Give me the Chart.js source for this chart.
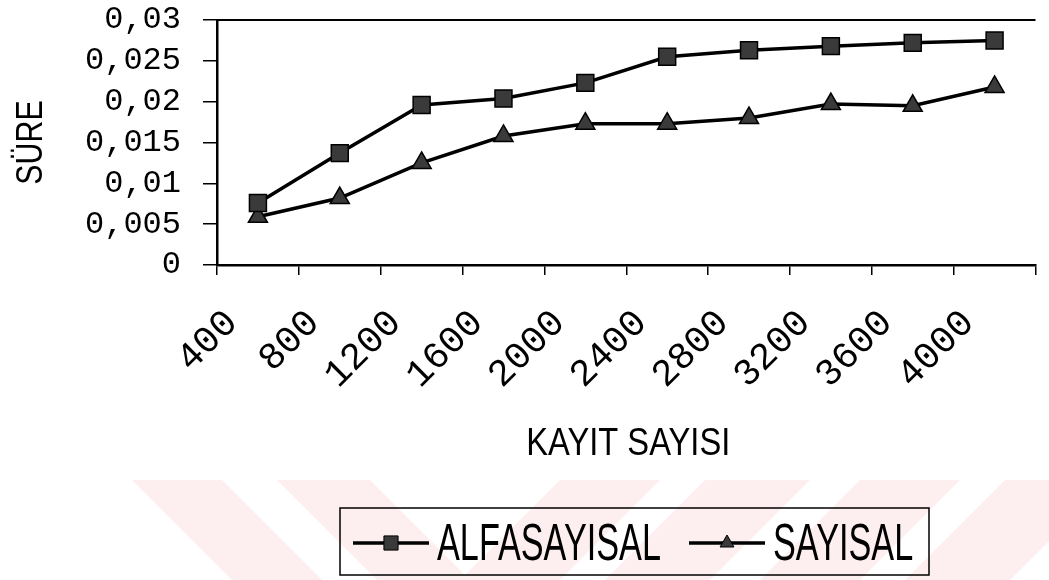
<!DOCTYPE html>
<html>
<head>
<meta charset="utf-8">
<script src="https://cdn.jsdelivr.net/npm/chart.js@4.4.1/dist/chart.umd.min.js"></script>
<style>
  html, body { margin: 0; padding: 0; background: #fff; }
  canvas { display: block; }
</style>
</head>
<body>
<canvas id="chart" width="1049" height="580"></canvas>
<script>
// Record counts on the x axis, measured times on the y axis
const categories = ['400', '800', '1200', '1600', '2000', '2400', '2800', '3200', '3600', '4000'];
const alfasayisal = [0.0076, 0.0137, 0.0196, 0.0204, 0.0223, 0.0255, 0.0263, 0.0268, 0.0272, 0.0275];
const sayisal = [0.0059, 0.0082, 0.0125, 0.0158, 0.0173, 0.0173, 0.0180, 0.0197, 0.0195, 0.0218];
const seriesNames = ['ALFASAYISAL', 'SAYISAL'];
const yTicks = [0, 0.005, 0.01, 0.015, 0.02, 0.025, 0.03];
const yTickLabels = ['0', '0,005', '0,01', '0,015', '0,02', '0,025', '0,03'];
const xTitle = 'KAYIT SAYISI';
const yTitle = 'SÜRE';

const sansFont = "'Liberation Sans', Arial, sans-serif";
const monoFont = "'Liberation Mono', 'Courier New', monospace";

// Faint pink diagonal bands behind the lower part of the page
const watermark = {
  id: 'watermark',
  beforeDraw(chart) {
    const { ctx, width, height } = chart;
    const top = 480;
    const h = height - top;
    ctx.save();
    ctx.fillStyle = '#ffffff';
    ctx.fillRect(0, 0, width, height);
    ctx.beginPath();
    ctx.rect(0, top, width, h);
    ctx.clip();
    ctx.fillStyle = '#fdeef0';
    const down = [[132, 222], [277, 370]];
    down.forEach(([a, b]) => {
      ctx.beginPath();
      ctx.moveTo(a, top); ctx.lineTo(b, top);
      ctx.lineTo(b + h, height); ctx.lineTo(a + h, height);
      ctx.closePath(); ctx.fill();
    });
    const up = [[560, 660], [705, 810], [860, 960], [1005, 1110]];
    up.forEach(([a, b]) => {
      ctx.beginPath();
      ctx.moveTo(a, top); ctx.lineTo(b, top);
      ctx.lineTo(b - h, height); ctx.lineTo(a - h, height);
      ctx.closePath(); ctx.fill();
    });
    ctx.restore();
  }
};

// Upper frame line of the plot area and the condensed axis titles
const frameAndTitles = {
  id: 'frameAndTitles',
  afterDraw(chart) {
    const { ctx, chartArea } = chart;
    ctx.save();
    ctx.strokeStyle = '#000';
    ctx.lineWidth = 2;
    ctx.beginPath();
    ctx.moveTo(chartArea.left, chartArea.top);
    ctx.lineTo(chartArea.right, chartArea.top);
    ctx.stroke();

    ctx.fillStyle = '#000';
    ctx.textAlign = 'center';
    ctx.textBaseline = 'alphabetic';
    ctx.font = '38px ' + sansFont;
    ctx.save();
    ctx.translate((chartArea.left + chartArea.right) / 2 + 2, 455);
    ctx.scale(0.86, 1);
    ctx.fillText(xTitle, 0, 0);
    ctx.restore();

    ctx.font = '37px ' + sansFont;
    ctx.save();
    ctx.translate(42, (chartArea.top + chartArea.bottom) / 2);
    ctx.rotate(-Math.PI / 2);
    ctx.scale(0.82, 1);
    ctx.fillText(yTitle, 0, 0);
    ctx.restore();
    ctx.restore();
  }
};

// Boxed legend under the axis title, with condensed lettering
const boxLegend = {
  id: 'boxLegend',
  afterDraw(chart) {
    const { ctx } = chart;
    const box = { x: 340, y: 508, w: 589, h: 67 };
    const cy = box.y + 35;
    const textBase = box.y + 52;
    ctx.save();
    ctx.strokeStyle = '#000';
    ctx.lineWidth = 1.5;
    ctx.strokeRect(box.x, box.y, box.w, box.h);
    ctx.font = '52px ' + sansFont;
    ctx.textBaseline = 'alphabetic';
    ctx.fillStyle = '#000';
    const sx = 224 / ctx.measureText(chart.data.datasets[0].label).width;
    let x = box.x + 13;
    chart.data.datasets.forEach((ds) => {
      const lineLen = 76;
      ctx.strokeStyle = '#000';
      ctx.lineWidth = 3.5;
      ctx.beginPath();
      ctx.moveTo(x, cy); ctx.lineTo(x + lineLen, cy);
      ctx.stroke();
      ctx.fillStyle = ds.pointBackgroundColor;
      ctx.strokeStyle = '#000';
      ctx.lineWidth = 1;
      Chart.helpers.drawPoint(ctx, { pointStyle: ds.pointStyle, radius: ds.pointStyle === 'rect' ? 10 : 8, borderWidth: 1, rotation: 0 }, x + lineLen / 2, cy);
      ctx.fillStyle = '#000';
      const tx = x + lineLen + 8;
      const tw = ctx.measureText(ds.label).width * sx;
      ctx.save();
      ctx.translate(tx, textBase);
      ctx.scale(sx, 1);
      ctx.fillText(ds.label, 0, 0);
      ctx.restore();
      x = tx + tw + 28;
    });
    ctx.restore();
  }
};

new Chart(document.getElementById('chart'), {
  type: 'line',
  data: {
    labels: categories,
    datasets: [
      {
        label: seriesNames[0],
        data: alfasayisal,
        borderColor: '#000',
        borderWidth: 3.5,
        tension: 0,
        fill: false,
        pointStyle: 'rect',
        pointRadius: 12,
        pointBackgroundColor: '#3a3a3a',
        pointBorderColor: '#000',
        pointBorderWidth: 1.5
      },
      {
        label: seriesNames[1],
        data: sayisal,
        borderColor: '#000',
        borderWidth: 3.5,
        tension: 0,
        fill: false,
        pointStyle: 'triangle',
        pointRadius: 11,
        pointBackgroundColor: '#3a3a3a',
        pointBorderColor: '#000',
        pointBorderWidth: 1.5
      }
    ]
  },
  options: {
    responsive: false,
    animation: false,
    events: [],
    layout: { padding: { top: 20, right: 0, bottom: 120, left: 0 } },
    plugins: {
      legend: { display: false },
      tooltip: { enabled: false }
    },
    scales: {
      x: {
        type: 'category',
        offset: true,
        grid: { offset: true, drawOnChartArea: false, drawTicks: true, tickLength: 10, color: '#000', lineWidth: 1.5 },
        border: { display: true, color: '#000', width: 2.5 },
        ticks: {
          color: '#000',
          font: { family: monoFont, size: 38 },
          minRotation: 45,
          maxRotation: 45,
          autoSkip: false,
          padding: 26,
          labelOffset: -26
        },
        afterFit(scale) {
          scale.height = 195;
          scale.paddingLeft = 0;
          scale.paddingRight = 0;
        }
      },
      y: {
        min: 0,
        max: 0.03,
        afterBuildTicks(scale) { scale.ticks = yTicks.map(v => ({ value: v })); },
        grid: { drawOnChartArea: false, drawTicks: true, tickLength: 14, color: '#000', lineWidth: 1.5 },
        border: { display: true, color: '#000', width: 2.5 },
        ticks: {
          color: '#000',
          font: { family: monoFont, size: 32, lineHeight: 1 },
          padding: 22,
          callback: (value, index) => yTickLabels[index]
        },
        afterFit(scale) {
          scale.width = 217;
          scale.paddingTop = 0;
          scale.paddingBottom = 0;
        }
      }
    }
  },
  plugins: [watermark, frameAndTitles, boxLegend]
});
</script>
</body>
</html>
